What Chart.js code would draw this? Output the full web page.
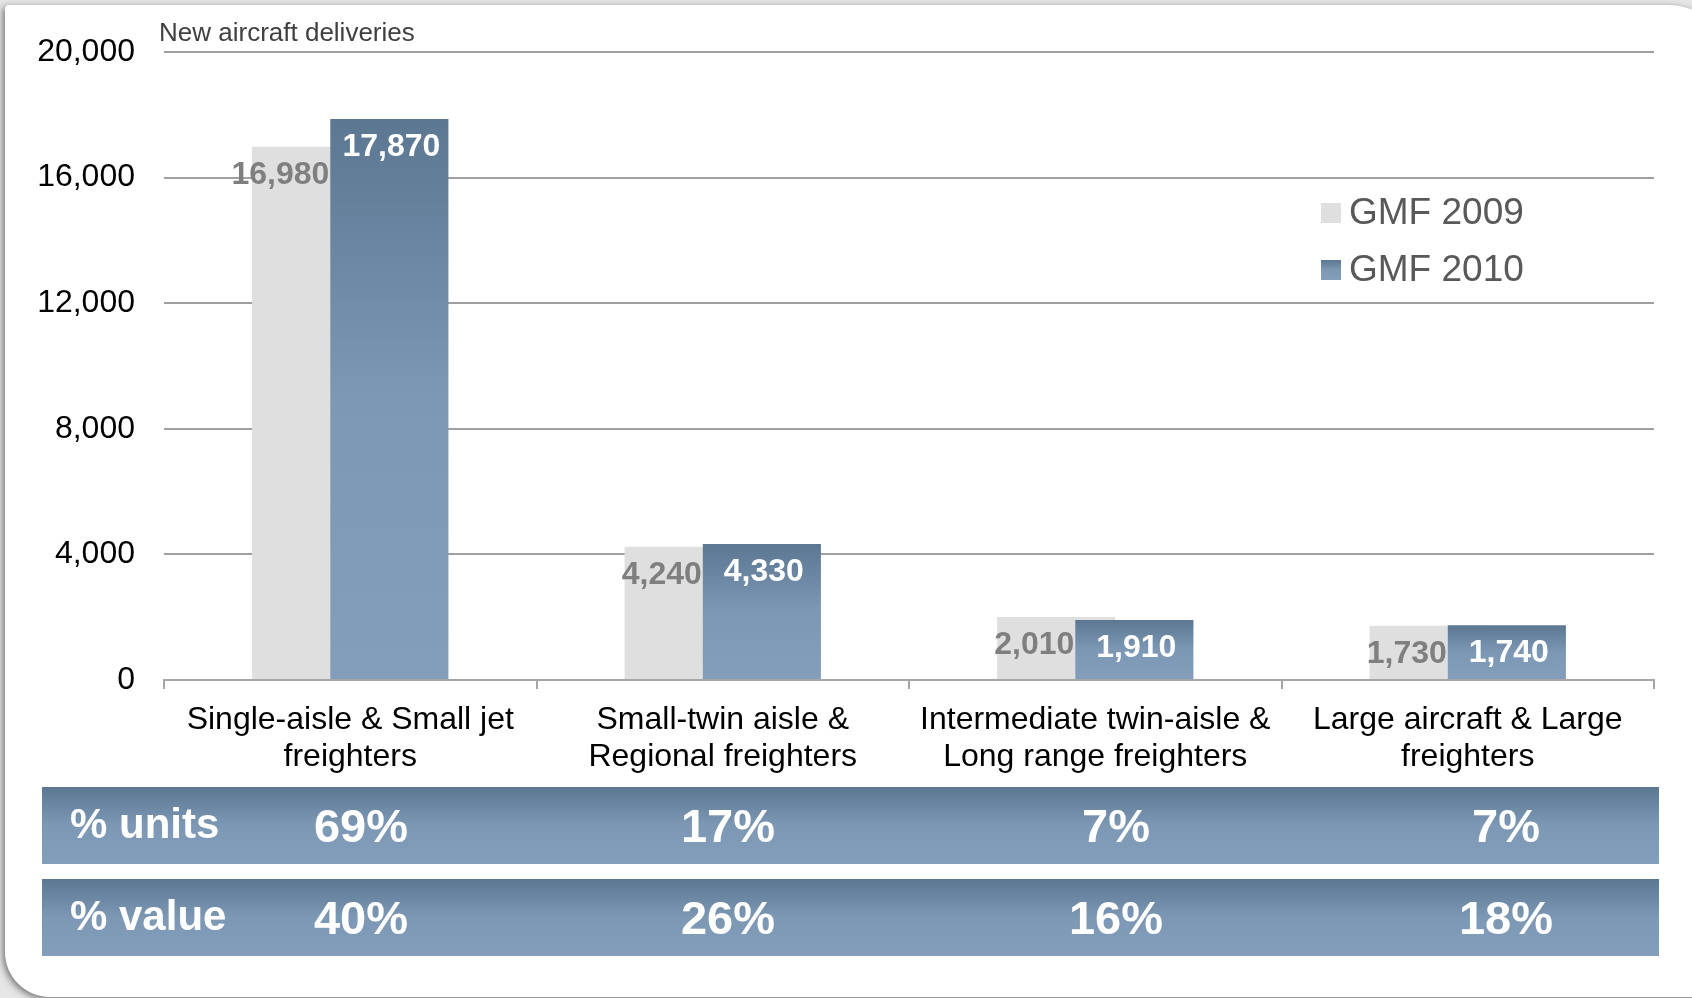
<!DOCTYPE html>
<html>
<head>
<meta charset="utf-8">
<script src="https://cdn.jsdelivr.net/npm/chart.js@4.4.1/dist/chart.umd.min.js"></script>
<style>
  html, body { margin: 0; padding: 0; background: #e6e6e6; }
  #wrap { position: relative; width: 1692px; height: 998px; }
</style>
</head>
<body>
<div id="wrap"><canvas id="deliveries"></canvas></div>
<script>
// chart data
const categories = [
    ['Single-aisle & Small jet', 'freighters'],
    ['Small-twin aisle &', 'Regional freighters'],
    ['Intermediate twin-aisle &', 'Long range freighters'],
    ['Large aircraft & Large', 'freighters']
];
const gmf2009 = [16980, 4240, 2010, 1730];
const gmf2010 = [17870, 4330, 1910, 1740];
const seriesNames = ['GMF 2009', 'GMF 2010'];
const yMin = 0, yMax = 20000, yStep = 4000;
const unitsShare = [69, 17, 7, 7];
const valueShare = [40, 26, 16, 18];
const rowNames = ['% units', '% value'];

const FONT = '"Liberation Sans", Arial, sans-serif';
const fmt = v => v.toLocaleString('en-US');

// vertical steel-blue gradient between two pixel rows
function steelGradient(c, top, bottom) {
    const g = c.createLinearGradient(0, top, 0, bottom);
    g.addColorStop(0, '#5c7792');
    g.addColorStop(0.5, '#7d98b4');
    g.addColorStop(1, '#839ebb');
    return g;
}

function blueFill(context) {
    const chart = context.chart;
    if (!chart.chartArea || context.type !== 'data') return '#7893b0';
    const y = chart.scales.y;
    return steelGradient(chart.ctx, y.getPixelForValue(context.raw), y.getPixelForValue(0));
}

// white card with rounded corners behind everything
const cardPlugin = {
    id: 'card',
    beforeDraw(chart) {
        const c = chart.ctx;
        c.save();
        c.fillStyle = '#e6e6e6';
        c.fillRect(0, 0, chart.width, chart.height);
        c.shadowColor = 'rgba(0,0,0,0.5)';
        c.shadowBlur = 7;
        c.shadowOffsetX = -2;
        c.shadowOffsetY = 2;
        c.fillStyle = '#ffffff';
        c.beginPath();
        c.roundRect(5, 5, chart.width + 40, chart.height - 6, [4, 70, 0, 45]);
        c.fill();
        c.restore();
    }
};

// chart.js paints dataset 0 last; the 2010 bars must sit on top of the 2009 ones
const overlapOrder = {
    id: 'overlapOrder',
    beforeDatasetDraw(chart, args) {
        if (args.index === 1 && !chart.$drawingBlue) return false;
    },
    afterDatasetDraw(chart, args) {
        if (args.index === 0) {
            chart.$drawingBlue = true;
            chart.getDatasetMeta(1).controller.draw();
            chart.$drawingBlue = false;
        }
    }
};

// title, value labels, legend and the share table
const overlayPlugin = {
    id: 'overlay',
    afterDatasetsDraw(chart) {
        const c = chart.ctx;
        const area = chart.chartArea;
        c.save();

        // axis title
        c.font = '26px ' + FONT;
        c.fillStyle = '#404040';
        c.textAlign = 'left';
        c.textBaseline = 'middle';
        c.fillText('New aircraft deliveries', area.left - 5, 34);

        // value labels
        const grey = chart.getDatasetMeta(0).data;
        const blue = chart.getDatasetMeta(1).data;
        c.font = 'bold 32px ' + FONT;
        blue.forEach((bar, i) => {
            const blueLeft = bar.x - bar.width / 2;
            c.fillStyle = '#7f7f7f';
            c.textAlign = 'right';
            c.fillText(fmt(gmf2009[i]), blueLeft - 1, grey[i].y + 28);
            c.fillStyle = '#ffffff';
            c.textAlign = 'center';
            c.fillText(fmt(gmf2010[i]), bar.x + 2, bar.y + 28);
        });

        // legend
        const lx = 1321, ly = [213, 270];
        chart.data.datasets.forEach((ds, i) => {
            const top = ly[i] - 10;
            c.fillStyle = i === 0 ? ds.backgroundColor : steelGradient(c, top, top + 20);
            c.fillRect(lx, top, 20, 20);
            c.font = '37px ' + FONT;
            c.fillStyle = '#595959';
            c.textAlign = 'left';
            c.fillText(ds.label, lx + 28, ly[i] + 1);
        });

        // share table
        const rows = [unitsShare, valueShare];
        const rowTop = [787, 879], rowH = 77;
        const colX = [361, 728, 1116, 1506];
        rows.forEach((vals, r) => {
            const t = rowTop[r];
            c.fillStyle = steelGradient(c, t, t + rowH);
            c.fillRect(42, t, 1617, rowH);
            c.fillStyle = '#ffffff';
            c.textAlign = 'left';
            c.font = 'bold 42px ' + FONT;
            c.fillText(rowNames[r], 70, t + rowH / 2 + 1);
            c.textAlign = 'center';
            c.font = 'bold 47px ' + FONT;
            vals.forEach((v, k) => c.fillText(v + '%', colX[k], t + rowH / 2 + 4));
        });

        c.restore();
    }
};

new Chart(document.getElementById('deliveries'), {
    type: 'bar',
    data: {
        labels: categories,
        datasets: [
            {
                label: seriesNames[0],
                data: gmf2009,
                backgroundColor: '#dfdfdf',
                categoryPercentage: 0.42,
                barPercentage: 1.51
            },
            {
                label: seriesNames[1],
                data: gmf2010,
                backgroundColor: blueFill,
                categoryPercentage: 0.42,
                barPercentage: 1.51
            }
        ]
    },
    options: {
        responsive: true,
        maintainAspectRatio: false,
        animation: false,
        layout: { padding: { left: 0, top: 52, right: 38, bottom: 0 } },
        plugins: {
            legend: { display: false },
            title: { display: false },
            tooltip: { enabled: false }
        },
        scales: {
            x: {
                afterFit: s => { s.height = 318; },
                grid: {
                    drawOnChartArea: false,
                    color: '#a6a6a6',
                    lineWidth: 2,
                    tickLength: 9
                },
                border: { color: '#a6a6a6', width: 2 },
                ticks: {
                    color: '#000000',
                    padding: 13,
                    maxRotation: 0,
                    autoSkip: false,
                    font: { family: FONT, size: 32, lineHeight: 1.15 }
                }
            },
            y: {
                min: yMin,
                max: yMax,
                afterFit: s => { s.width = 164; },
                grid: { color: '#a0a0a0', lineWidth: 2, drawTicks: false },
                border: { display: false },
                ticks: {
                    stepSize: yStep,
                    color: '#000000',
                    padding: 29,
                    font: { family: FONT, size: 32 },
                    callback: v => fmt(v)
                }
            }
        }
    },
    plugins: [cardPlugin, overlapOrder, overlayPlugin]
});
</script>
</body>
</html>
